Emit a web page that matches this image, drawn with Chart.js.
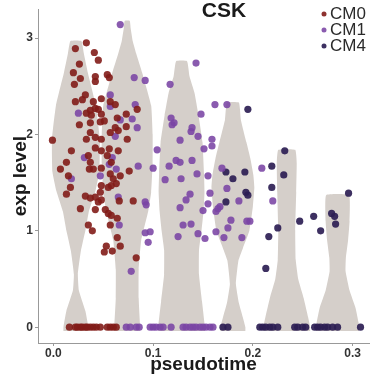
<!DOCTYPE html>
<html>
<head>
<meta charset="utf-8">
<script src="https://cdn.jsdelivr.net/npm/chart.js@4.4.1/dist/chart.umd.min.js"></script>
<style>
  html, body { margin: 0; padding: 0; background: #fff; }
  #wrap { width: 373px; height: 379px; }
</style>
</head>
<body>
<div id="wrap"><canvas id="myChart" width="373" height="379"></canvas></div>
<script>
// ---------- data
const pseudotimeTicks = [0, 0.1, 0.2, 0.3];
const expTicks = [0, 1, 2, 3];
const groups = ["CM0", "CM1", "CM4"];
const groupColors = ["rgba(130,28,24,0.9)", "rgba(122,68,164,0.88)", "rgba(44,30,84,0.92)"];

// cells with expression > 0  [pseudotime, exp level]
const cm0 = [
  [0.033, 2.95], [0.022, 2.89], [0.041, 2.85], [0.026, 2.73], [0.045, 2.77], [0.020, 2.64],
  [0.027, 2.58], [0.042, 2.60], [0.042, 2.55], [0.054, 2.62], [0.056, 2.59], [0.021, 2.52],
  [0.032, 2.41], [0.022, 2.34], [0.029, 2.36], [0.040, 2.34], [0.048, 2.37], [0.057, 2.34],
  [0.062, 2.31], [0.037, 2.25], [0.042, 2.27], [0.045, 2.26], [0.033, 2.22], [0.038, 2.20],
  [0.048, 2.21], [0.026, 2.10], [0.037, 2.12], [0.047, 2.13], [0.051, 2.14], [0.064, 2.17],
  [0.073, 2.21], [0.084, 2.26], [0.062, 2.07], [0.065, 2.04], [0.073, 2.08], [0.037, 2.02],
  [0.033, 1.95], [0.042, 1.97], [0.048, 1.95], [-0.001, 1.94], [0.057, 2.02], [0.074, 1.95],
  [0.042, 1.86], [0.056, 1.85], [0.065, 1.83], [0.018, 1.83], [0.035, 1.78], [0.048, 1.83],
  [0.054, 1.78], [0.013, 1.71], [0.037, 1.71], [0.058, 1.71], [0.036, 1.64], [0.040, 1.64],
  [0.048, 1.65], [0.076, 1.62], [0.067, 1.57], [0.057, 1.59], [0.007, 1.64], [0.015, 1.57],
  [0.013, 1.38], [0.017, 1.45], [0.032, 1.36], [0.037, 1.34], [0.042, 1.35], [0.045, 1.30],
  [0.048, 1.32], [0.047, 1.40], [0.048, 1.47], [0.055, 1.45], [0.058, 1.47], [0.063, 1.49],
  [0.060, 1.54], [0.066, 1.31], [0.027, 1.23], [0.042, 1.22], [0.052, 1.22], [0.055, 1.18],
  [0.058, 1.16], [0.080, 1.31], [0.057, 1.06], [0.064, 1.13], [0.035, 1.06], [0.039, 1.00],
  [0.064, 0.93], [0.067, 0.84], [0.053, 0.84], [0.051, 0.78], [0.059, 0.79], [0.083, 0.72]
];
const cm1 = [
  [0.067, 3.14], [0.081, 2.59], [0.092, 2.56], [0.025, 2.22], [0.057, 2.29], [0.057, 2.41],
  [0.067, 2.15], [0.079, 2.16], [0.082, 2.31], [0.062, 1.98], [0.084, 2.07], [0.059, 1.76],
  [0.031, 1.76], [0.056, 1.69], [0.063, 1.64], [0.085, 1.67], [0.047, 1.57], [0.018, 1.54],
  [0.100, 1.65], [0.104, 1.84], [0.065, 1.35], [0.092, 1.30], [0.093, 1.27], [0.066, 1.06],
  [0.078, 0.58], [0.092, 0.98], [0.097, 0.99], [0.095, 0.88],
  [0.143, 2.74], [0.117, 2.52], [0.162, 2.31], [0.174, 2.31], [0.148, 2.21], [0.118, 2.17],
  [0.121, 2.12], [0.119, 2.10], [0.139, 2.07], [0.138, 2.03], [0.145, 1.98], [0.127, 1.94],
  [0.159, 1.95], [0.151, 1.85], [0.159, 1.88], [0.123, 1.73], [0.127, 1.71], [0.139, 1.73],
  [0.116, 1.67], [0.169, 1.65], [0.144, 1.59], [0.155, 1.57], [0.128, 1.54], [0.112, 1.53],
  [0.174, 1.44], [0.137, 1.38], [0.133, 1.32], [0.127, 1.24], [0.130, 1.06], [0.138, 1.07],
  [0.125, 0.94], [0.145, 0.97], [0.152, 0.92], [0.157, 1.39], [0.155, 1.28], [0.150, 1.21],
  [0.165, 1.23], [0.167, 1.25], [0.163, 1.20], [0.186, 1.31], [0.194, 1.10], [0.197, 1.10],
  [0.178, 1.11], [0.175, 1.03], [0.163, 0.99], [0.171, 0.93], [0.189, 0.93],
  [0.209, 1.65], [0.220, 1.31]
];
const cm4 = [
  [0.195, 2.26], [0.173, 1.61], [0.192, 1.61], [0.180, 1.54], [0.173, 1.30], [0.193, 1.40],
  [0.195, 1.37], [0.232, 1.83], [0.219, 1.67], [0.231, 1.58], [0.219, 1.45], [0.247, 1.10],
  [0.261, 1.15], [0.268, 1.00], [0.279, 1.18], [0.282, 1.15], [0.283, 1.07], [0.296, 1.39],
  [0.225, 1.03], [0.216, 0.94], [0.213, 0.61]
];
// cells with exp level 0 (pseudotime only)
const cm0Zero = [0.016, 0.022, 0.024, 0.027, 0.029, 0.032, 0.034, 0.037, 0.040, 0.043, 0.047, 0.054, 0.057, 0.060, 0.063];
const cm1Zero = [0.073, 0.077, 0.083, 0.086, 0.097, 0.100, 0.103, 0.107, 0.110, 0.118, 0.130, 0.133, 0.137, 0.140, 0.143, 0.147, 0.150, 0.153, 0.157, 0.160];
const cm4Zero = [0.170, 0.175, 0.207, 0.210, 0.213, 0.217, 0.220, 0.225, 0.242, 0.245, 0.250, 0.253, 0.262, 0.265, 0.268, 0.272, 0.275, 0.280, 0.285, 0.308];

// violins: centre on pseudotime, exp levels and half width (pseudotime units) at each level
const violinCenter = [0.0225, 0.074, 0.1285, 0.18, 0.234, 0.285];
const violinLevels = [
  [-0.04, 0, 0.17, 0.38, 0.55, 0.79, 1.0, 1.2, 1.41, 1.61, 1.95, 2.30, 2.64, 2.84, 2.97],
  [-0.04, 0, 0.3, 0.6, 0.9, 1.2, 1.4, 1.7, 2.0, 2.3, 2.64, 2.84, 2.97, 3.1, 3.18],
  [-0.04, 0, 0.27, 0.55, 0.8, 1.0, 1.2, 1.4, 1.6, 1.92, 2.2, 2.43, 2.6, 2.76],
  [-0.04, 0, 0.1, 0.25, 0.45, 0.69, 0.82, 1.0, 1.25, 1.45, 1.58, 1.75, 1.92, 2.15, 2.33],
  [-0.04, 0, 0.1, 0.3, 0.5, 0.7, 1.0, 1.4, 1.7, 1.84],
  [-0.04, 0, 0.05, 0.2, 0.38, 0.58, 0.72, 0.9, 1.1, 1.37]
];
const violinHalfWidth = [
  [0.0125, 0.0125, 0.0095, 0.003, 0.002, 0.005, 0.0095, 0.013, 0.0195, 0.0235, 0.024, 0.020, 0.012, 0.008, 0.0055],
  [0.013, 0.013, 0.0115, 0.0115, 0.014, 0.021, 0.024, 0.0255, 0.0255, 0.024, 0.015, 0.009, 0.0055, 0.0035, 0.0025],
  [0.0235, 0.0235, 0.0205, 0.0175, 0.0175, 0.020, 0.022, 0.023, 0.0225, 0.021, 0.017, 0.013, 0.008, 0.0055],
  [0.0125, 0.0125, 0.010, 0.006, 0.003, 0.0055, 0.010, 0.0165, 0.020, 0.0215, 0.0205, 0.0175, 0.0135, 0.008, 0.006],
  [0.0235, 0.0235, 0.0215, 0.017, 0.0115, 0.009, 0.0085, 0.0095, 0.010, 0.0085],
  [0.0215, 0.0215, 0.021, 0.018, 0.012, 0.008, 0.0083, 0.0105, 0.012, 0.0115]
];

// ---------- build datasets
function violinOutline(i) {
  const c = violinCenter[i];
  const lv = violinLevels[i];
  const hw = violinHalfWidth[i];
  const pts = [];
  for (let k = 0; k < lv.length; k++) pts.push({ x: c + hw[k], y: lv[k] });
  for (let k = lv.length - 1; k >= 0; k--) pts.push({ x: c - hw[k], y: lv[k] });
  return pts;
}

const violinSets = violinCenter.map((c, i) => ({
  label: "violin" + i,
  data: violinOutline(i),
  showLine: true,
  fill: "shape",
  backgroundColor: "#d5cfca",
  borderWidth: 0,
  borderColor: "rgba(0,0,0,0)",
  pointRadius: 0,
  tension: 0.12,
  order: 2,
}));

const pointData = [
  cm0.map(p => ({ x: p[0], y: p[1] })).concat(cm0Zero.map(t => ({ x: t, y: 0 }))),
  cm1.map(p => ({ x: p[0], y: p[1] })).concat(cm1Zero.map(t => ({ x: t, y: 0 }))),
  cm4.map(p => ({ x: p[0], y: p[1] })).concat(cm4Zero.map(t => ({ x: t, y: 0 }))),
];

const pointSets = groups.map((g, i) => ({
  label: g,
  data: pointData[i],
  backgroundColor: groupColors[i],
  borderWidth: 0,
  pointRadius: 3.6,
  order: 1,
}));

// title + legend drawn inside the plot like ggplot does
const overlay = {
  id: "overlay",
  afterDraw(chart) {
    const ctx = chart.ctx;
    ctx.save();
    ctx.fillStyle = "#1a1a1a";
    ctx.font = "bold 21px 'Liberation Sans', Arial, sans-serif";
    ctx.textAlign = "center";
    ctx.textBaseline = "middle";
    ctx.fillText("CSK", 224, 11);
    ctx.font = "17px 'Liberation Sans', Arial, sans-serif";
    ctx.textAlign = "left";
    groups.forEach((g, i) => {
      const y = 14 + i * 16;
      ctx.fillStyle = groupColors[i];
      ctx.beginPath();
      ctx.arc(324, y, 2.5, 0, Math.PI * 2);
      ctx.fill();
      ctx.fillStyle = "#2a2a2a";
      ctx.fillText(g, 330, y + 0.5);
    });
    ctx.restore();
  },
};

Chart.defaults.font.family = "'Liberation Sans', Arial, sans-serif";

new Chart("myChart", {
  type: "scatter",
  data: { datasets: pointSets.concat(violinSets) },
  options: {
    responsive: false,
    animation: false,
    layout: { padding: { top: 5, right: 3, left: 0, bottom: 0 } },
    plugins: { legend: { display: false }, tooltip: { enabled: false } },
    scales: {
      x: {
        type: "linear",
        min: -0.0155,
        max: 0.3165,
        afterFit: s => { s.height = 36; },
        afterBuildTicks: s => { s.ticks = pseudotimeTicks.map(v => ({ value: v })); },
        ticks: {
          callback: v => v.toFixed(1),
          font: { size: 12, weight: "bold" },
          color: "#333",
          padding: 0,
          maxRotation: 0,
        },
        grid: { drawOnChartArea: false, drawTicks: true, tickLength: 3, color: "#999" },
        border: { display: true, color: "#999", width: 1 },
        title: {
          display: true,
          text: "pseudotime",
          font: { size: 19, weight: "bold" },
          color: "#1a1a1a",
          padding: { top: 0, bottom: 3 },
        },
      },
      y: {
        type: "linear",
        min: -0.164,
        max: 3.299,
        afterFit: s => { s.width = 38; },
        afterBuildTicks: s => { s.ticks = expTicks.map(v => ({ value: v })); },
        ticks: {
          callback: v => String(v),
          font: { size: 12, weight: "bold" },
          color: "#333",
          padding: 2,
        },
        grid: { drawOnChartArea: false, drawTicks: true, tickLength: 3, color: "#999" },
        border: { display: true, color: "#999", width: 1 },
        title: {
          display: true,
          text: "exp level",
          font: { size: 19, weight: "bold" },
          color: "#1a1a1a",
          padding: { top: 9, bottom: 0 },
        },
      },
    },
  },
  plugins: [overlay],
});
</script>
</body>
</html>
